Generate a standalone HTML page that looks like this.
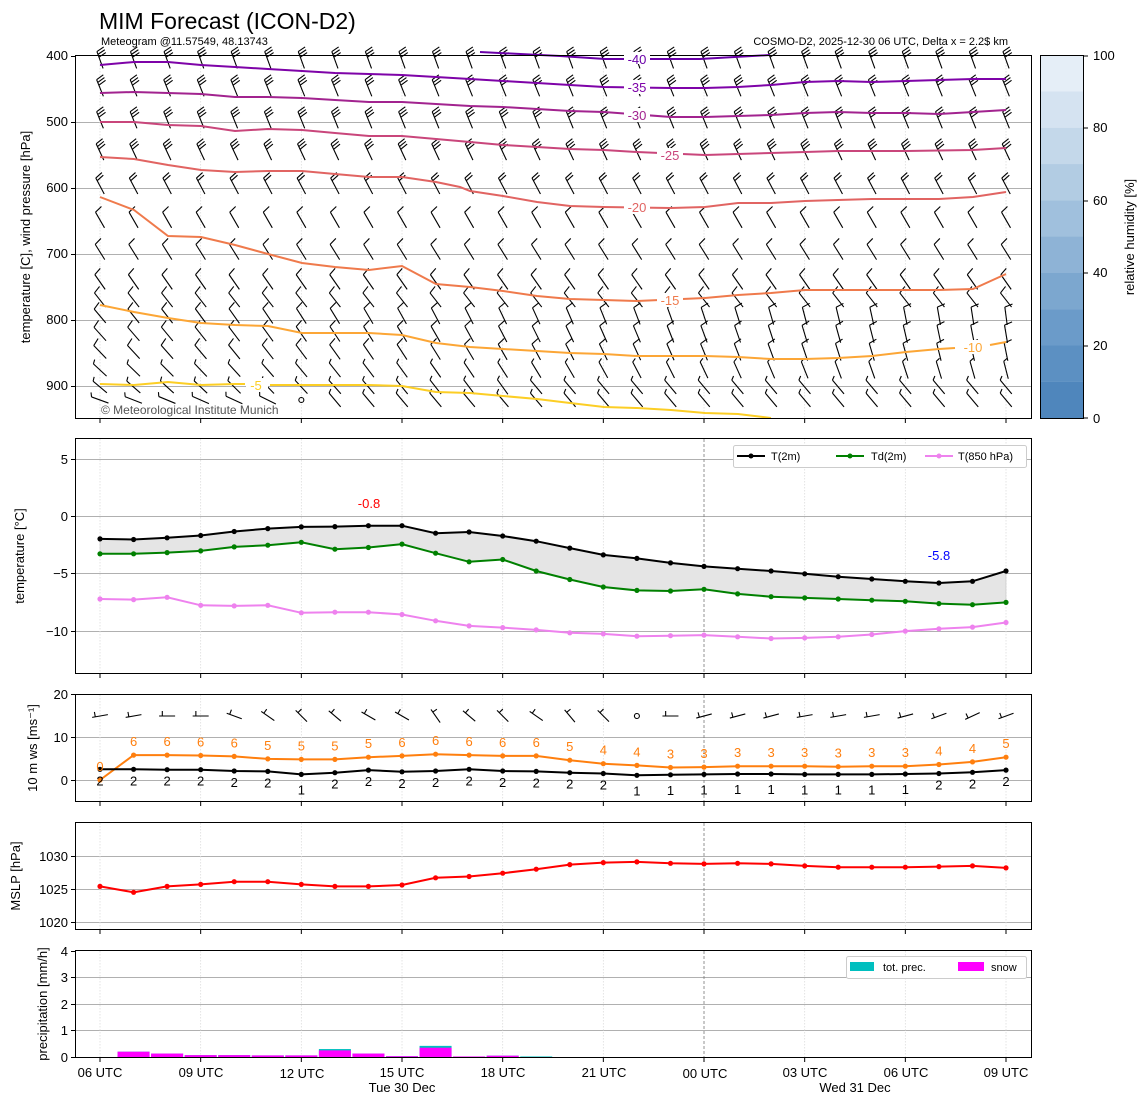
<!DOCTYPE html>
<html><head><meta charset="utf-8"><style>
body{margin:0;background:#fff;}
svg{display:block;font-family:"Liberation Sans","DejaVu Sans",sans-serif;}
</style></head><body>
<svg id="s" width="1148" height="1105" viewBox="0 0 1148 1105" xmlns="http://www.w3.org/2000/svg">
<rect width="1148" height="1105" fill="#fff"/>
<g id="grid"></g>
<g id="data"></g>
<!-- frames -->
<g fill="none" stroke="#000" stroke-width="1">
<rect x="75.5" y="55.5" width="956" height="363"/>
<rect x="75.5" y="438.5" width="956" height="235"/>
<rect x="75.5" y="694.5" width="956" height="107"/>
<rect x="75.5" y="822.5" width="956" height="107"/>
<rect x="75.5" y="950.5" width="956" height="107"/>
<rect x="1040.5" y="55.5" width="43" height="363"/>
</g>
<g id="ticks" stroke="#000"></g>
<!-- texts -->
<text x="99" y="29" font-size="23">MIM Forecast (ICON-D2)</text>
<text x="101" y="45" font-size="11">Meteogram @11.57549, 48.13743</text>
<text x="1008" y="45" font-size="11" text-anchor="end">COSMO-D2, 2025-12-30 06 UTC, Delta x = 2.2$ km</text>
<g font-size="13" text-anchor="end">
<text x="68" y="60">400</text><text x="68" y="126">500</text><text x="68" y="192">600</text><text x="68" y="258">700</text><text x="68" y="324">800</text><text x="68" y="390">900</text>
<text x="68" y="464">5</text><text x="68" y="521">0</text><text x="68" y="578">−5</text><text x="68" y="636">−10</text>
<text x="68" y="699">20</text><text x="68" y="742">10</text><text x="68" y="785">0</text>
<text x="68" y="861">1030</text><text x="68" y="894">1025</text><text x="68" y="927">1020</text>
<text x="68" y="956">4</text><text x="68" y="982">3</text><text x="68" y="1009">2</text><text x="68" y="1035">1</text><text x="68" y="1062">0</text>
</g>
<g font-size="13">
<text x="1093" y="60">100</text><text x="1093" y="132">80</text><text x="1093" y="205">60</text><text x="1093" y="277">40</text><text x="1093" y="350">20</text><text x="1093" y="423">0</text>
</g>
<text transform="translate(1134,237) rotate(-90)" font-size="13" text-anchor="middle">relative humidity [%]</text>
<text transform="translate(30,237) rotate(-90)" font-size="13" text-anchor="middle">temperature [C], wind pressure [hPa]</text>
<text transform="translate(24,556) rotate(-90)" font-size="13" text-anchor="middle">temperature [°C]</text>
<text transform="translate(37,748) rotate(-90)" font-size="13" text-anchor="middle">10 m ws [ms⁻¹]</text>
<text transform="translate(20,876) rotate(-90)" font-size="13" text-anchor="middle">MSLP [hPa]</text>
<text transform="translate(47,1004) rotate(-90)" font-size="13" text-anchor="middle">precipitation [mm/h]</text>
<g font-size="13" text-anchor="middle">
<text x="100" y="1077">06 UTC</text><text x="201" y="1077">09 UTC</text><text x="302" y="1078">12 UTC</text><text x="402" y="1077">15 UTC</text><text x="503" y="1077">18 UTC</text><text x="604" y="1077">21 UTC</text><text x="705" y="1078">00 UTC</text><text x="805" y="1077">03 UTC</text><text x="906" y="1077">06 UTC</text><text x="1006" y="1077">09 UTC</text>
<text x="402" y="1092">Tue 30 Dec</text><text x="855" y="1092">Wed 31 Dec</text>
</g>
<text x="101" y="414" font-size="12" fill="#555">© Meteorological Institute Munich</text>
<g fill="#fff">
<rect x="624" y="52" width="26" height="12"/><rect x="624" y="80" width="26" height="14"/><rect x="624" y="108" width="26" height="14"/>
<rect x="657" y="148" width="26" height="14"/><rect x="624" y="200" width="26" height="14"/><rect x="657" y="293" width="26" height="14"/>
<rect x="958" y="340" width="30" height="14"/><rect x="246" y="378" width="22" height="14"/>
</g>
<g font-size="13" text-anchor="middle">
<text x="637" y="64" fill="#6a00a8">-40</text>
<text x="637" y="92" fill="#7e03a8">-35</text>
<text x="637" y="120" fill="#a2238f">-30</text>
<text x="670" y="160" fill="#c9467b">-25</text>
<text x="637" y="212" fill="#e16462">-20</text>
<text x="670" y="305" fill="#ef7a4c">-15</text>
<text x="973" y="352" fill="#fca636">-10</text>
<text x="256" y="390" fill="#fcce25">-5</text>
</g>
<text x="369" y="508" font-size="13" fill="red" text-anchor="middle">-0.8</text>
<text x="939" y="560" font-size="13" fill="blue" text-anchor="middle">-5.8</text>
<!-- legends -->
<rect x="733.5" y="445.5" width="293" height="22" rx="2" fill="#fff" stroke="#ccc"/>
<line x1="737" y1="456" x2="765" y2="456" stroke="#000" stroke-width="2"/><circle cx="751" cy="456" r="2.5"/>
<text x="771" y="460" font-size="11">T(2m)</text>
<line x1="836" y1="456" x2="864" y2="456" stroke="green" stroke-width="2"/><circle cx="850" cy="456" r="2.5" fill="green"/>
<text x="861" y="460" font-size="11" dx="10">Td(2m)</text>
<line x1="925" y1="456" x2="953" y2="456" stroke="violet" stroke-width="2"/><circle cx="939" cy="456" r="2.5" fill="violet"/>
<text x="958" y="460" font-size="11">T(850 hPa)</text>
<rect x="846.5" y="956.5" width="180" height="22" rx="2" fill="#fff" stroke="#ccc"/>
<rect x="850" y="962" width="24" height="9" fill="#00bfbf"/><text x="883" y="971" font-size="11">tot. prec.</text>
<rect x="958" y="962" width="26" height="9" fill="#f0f"/><text x="991" y="971" font-size="11">snow</text>
<g id="lbl" font-size="13" text-anchor="middle">
</g>
</svg>
<script>
(function(){
const NS="http://www.w3.org/2000/svg";
const X=h=>100+h*33.556;
function el(p,t,a){const e=document.createElementNS(NS,t);for(const k in a)e.setAttribute(k,a[k]);p.appendChild(e);return e;}
const G=document.getElementById('grid'),D=document.getElementById('data'),T=document.getElementById('ticks');
[[122,188,254,320,386],[459,516,573,631],[737,780],[856,889,922],[977,1004,1030]].forEach(a=>a.forEach(y=>el(G,'line',{x1:76,x2:1031,y1:y+.5,y2:y+.5,stroke:'#b0b0b0','stroke-width':1})));
const panels=[[56,418],[439,673],[695,801],[823,929],[951,1057]];
for(let i=0;i<10;i++){const x=X(i*3);panels.forEach((p,j)=>{
 if(i==6&&j>0) el(G,'line',{x1:x,x2:x,y1:p[0],y2:p[1],stroke:'#777','stroke-width':.8,'stroke-dasharray':'3,2'});
 else el(G,'line',{x1:x,x2:x,y1:p[0],y2:p[1],stroke:'#ddd','stroke-width':.8,'stroke-dasharray':'1.5,1.5'});
 el(T,'line',{x1:x,x2:x,y1:p[1]+1,y2:p[1]+5});});}
[[56,122,188,254,320,386],[459,516,573,631],[694,737,780],[856,889,922],[951,977,1004,1030,1057]].forEach(a=>a.forEach(y=>el(T,'line',{x1:71,x2:75,y1:y+.5,y2:y+.5})));
[56,128,201,273,346,418].forEach(y=>el(T,'line',{x1:1084,x2:1088,y1:y,y2:y}));
const cb=['#4f86bc','#5c90c2','#6b9bc9','#7ca7cf','#8eb3d6','#a0c0dd','#b2cce3','#c4d8ea','#d5e3f1','#e5eef7','#f3f8fc'];
for(let i=0;i<10;i++){el(G,'rect',{x:1041,width:43,y:418-(i+1)*36.3,height:36.5,fill:cb[i]});}
const C=[
['#6a00a8',[[480,52],[560,56],[605,59],[700,59],[770,55]]],
['#7e03a8',[[100,65],[134,62],[168,62],[201,65],[235,67],[268,69],[302,71],[335,73],[369,74],[402,75],[436,77],[470,79],[503,81],[537,83],[570,85],[604,87],[671,88],[705,88],[738,87],[771,85],[805,82],[838,81],[872,82],[906,81],[939,80],[973,79],[1006,79]]],
['#a2238f',[[100,93],[134,92],[168,93],[201,94],[235,97],[268,97],[302,98],[335,100],[369,102],[402,102],[436,104],[470,106],[503,107],[537,109],[570,111],[604,112],[671,117],[705,117],[738,116],[771,115],[805,113],[838,112],[872,113],[906,113],[939,114],[973,112],[1006,110]]],
['#c9467b',[[100,122],[134,122],[168,125],[201,126],[235,131],[268,129],[302,130],[335,133],[369,136],[402,136],[436,139],[470,142],[503,145],[537,147],[570,149],[604,150],[637,152],[705,155],[738,154],[771,153],[805,152],[838,151],[906,151],[973,150],[1006,148]]],
['#e16462',[[100,157],[134,159],[168,165],[201,170],[235,172],[268,171],[302,171],[335,174],[369,177],[402,177],[436,182],[460,187],[470,191],[503,196],[537,202],[570,206],[604,207],[671,208],[705,207],[738,203],[771,203],[805,201],[838,200],[872,199],[939,199],[973,197],[1006,192]]],
['#ef7a4c',[[100,197],[134,210],[168,236],[201,237],[235,245],[268,254],[302,263],[335,267],[369,270],[402,266],[436,284],[470,287],[503,291],[537,296],[570,299],[604,300],[637,301],[705,298],[738,295],[771,293],[805,290],[872,290],[939,290],[973,289],[1006,274]]],
['#fca636',[[100,305],[134,312],[168,318],[201,323],[235,325],[268,326],[302,333],[369,333],[402,335],[436,343],[470,347],[503,349],[537,351],[570,353],[604,354],[637,356],[705,356],[738,357],[771,359],[805,359],[838,358],[872,356],[906,352],[939,349],[955,348]],[[990,345],[1006,342]]],
['#fcce25',[[100,384],[134,385],[168,382],[201,385],[235,384],[245,384]],[[270,385],[302,385],[369,385],[402,386],[436,392],[470,393],[503,396],[537,399],[570,403],[604,407],[637,408],[671,410],[705,413],[738,414],[771,418]]]
];
const pl=a=>a.map(p=>p.join(',')).join(' ');
const rows=[[60,-20,3],[88,-22,3],[120,-22,3],[152,-25,3],[186,-28,2],[220,-30,1],[252,-32,1],[282,-35,1],[300,-38,1],[316,-40,1],[334,-42,1],[352,-44,1],[370,-47,.5],[387,-50,.5],[400,-70,.5]];
const B=el(D,'g',{stroke:'#000','stroke-width':1.1,fill:'none'});
for(let h=0;h<28;h++){const x=X(h);rows.forEach((r,i)=>{
 let ang=r[1]+ (i>8? h*1.2:0); if(i==14&&h>5) ang=-40; if(i==13&&h>12) ang=-40;
 const a=ang*Math.PI/180, L=18;
 const x0=x+Math.sin(-a)*L*0.5, y0=r[0]+Math.cos(a)*L*0.5;
 const x1=x-Math.sin(-a)*L*0.5, y1=r[0]-Math.cos(a)*L*0.5;
 if(i==14&&h==6){el(B,'circle',{cx:x,cy:r[0],r:2.5});return;}
 el(B,'line',{x1:x0,y1:y0,x2:x1,y2:y1});
 let n=r[2];const ux=(x0-x1)/L,uy=(y0-y1)/L;
 for(let k=0;k<Math.ceil(n);k++){const bx=x1+ux*k*3,by=y1+uy*k*3;const len=(n-k<1)?4:8;
  el(B,'line',{x1:bx,y1:by,x2:bx-uy*len*-1+(-ux*2),y2:by+ux*len*-1+(-uy*2)});}
});}
C.forEach(c=>c.slice(1).forEach(s=>el(D,'polyline',{points:pl(s),fill:'none',stroke:c[0],'stroke-width':2})));
const t2=[-2.0,-2.05,-1.9,-1.7,-1.35,-1.1,-0.95,-0.93,-0.85,-0.85,-1.5,-1.4,-1.75,-2.2,-2.8,-3.4,-3.7,-4.1,-4.4,-4.6,-4.8,-5.05,-5.3,-5.5,-5.7,-5.85,-5.7,-4.8];
const td=[-3.3,-3.3,-3.2,-3.05,-2.7,-2.55,-2.3,-2.9,-2.75,-2.45,-3.25,-4.0,-3.8,-4.8,-5.55,-6.2,-6.5,-6.55,-6.4,-6.8,-7.05,-7.15,-7.25,-7.35,-7.45,-7.65,-7.75,-7.55];
const t8=[-7.25,-7.3,-7.1,-7.8,-7.85,-7.8,-8.45,-8.4,-8.4,-8.6,-9.15,-9.6,-9.75,-9.95,-10.2,-10.3,-10.5,-10.45,-10.4,-10.55,-10.7,-10.65,-10.55,-10.35,-10.05,-9.85,-9.7,-9.3];
const Y2=v=>516-v*11.45;
const P=(arr,f)=>arr.map((v,h)=>[X(h).toFixed(1),f(v).toFixed(1)]);
el(D,'polygon',{points:pl(P(t2,Y2))+' '+pl(P(td,Y2).reverse()),fill:'#e5e5e5',stroke:'#bbb','stroke-width':.5});
function series(arr,f,col){const p=P(arr,f);el(D,'polyline',{points:pl(p),fill:'none',stroke:col,'stroke-width':2});p.forEach(q=>el(D,'circle',{cx:q[0],cy:q[1],r:2.6,fill:col}));}
series(t8,Y2,'violet');series(td,Y2,'green');series(t2,Y2,'#000');
const ws=[0,5.8,5.8,5.7,5.5,4.9,4.8,4.8,5.3,5.6,6,5.8,5.6,5.6,4.6,3.8,3.4,2.9,3.0,3.2,3.2,3.2,3.1,3.2,3.2,3.6,4.2,5.3];
const wb=[2.5,2.5,2.4,2.4,2.1,2.0,1.3,1.7,2.3,1.9,2.1,2.5,2.1,2.0,1.7,1.5,1.1,1.2,1.3,1.4,1.4,1.3,1.3,1.3,1.4,1.5,1.8,2.3];
const wl=[0,6,6,6,6,5,5,5,5,6,6,6,6,6,5,4,4,3,3,3,3,3,3,3,3,4,4,5];
const bl=[2,2,2,2,2,2,1,2,2,2,2,2,2,2,2,2,1,1,1,1,1,1,1,1,1,2,2,2];
const Y3=v=>780-v*4.3;
series(ws,Y3,'#ff7f0e');series(wb,Y3,'#000');
const L=document.getElementById('lbl');
for(let h=0;h<28;h++){let t=el(L,'text',{x:X(h),y:Y3(ws[h])-9,fill:'#ff7f0e'});t.textContent=wl[h];
 t=el(L,'text',{x:X(h),y:Y3(wb[h])+16+(bl[h]==1?4:0)});t.textContent=bl[h];}
const ang3=[-10,-10,0,0,20,35,45,40,30,30,55,40,45,35,50,45,null,0,-15,-15,-15,-10,-10,-10,-15,-20,-25,-20];
const B3=el(D,'g',{stroke:'#000','stroke-width':1.1});
ang3.forEach((a,h)=>{const x=X(h),y=716;if(a===null){el(B3,'circle',{cx:x,cy:y,r:2.5,fill:'none'});return;}
 const r=a*Math.PI/180,dx=Math.cos(r)*8,dy=Math.sin(r)*8;
 el(B3,'line',{x1:x-dx,y1:y-dy,x2:x+dx,y2:y+dy});
 el(B3,'line',{x1:x-dx*0.6,y1:y-dy*0.6,x2:x-dx*0.6+Math.sin(r)*5,y2:y-dy*0.6-Math.cos(r)*5});});
const ms=[1025.4,1024.5,1025.4,1025.7,1026.1,1026.1,1025.7,1025.4,1025.4,1025.6,1026.7,1026.9,1027.4,1028.0,1028.7,1029.0,1029.1,1028.9,1028.8,1028.9,1028.8,1028.5,1028.3,1028.3,1028.3,1028.4,1028.5,1028.2];
series(ms,v=>889-(v-1025)*6.6,'red');
const tp=[0,0.2,0.13,0.07,0.07,0.06,0.06,0.3,0.13,0.03,0.42,0.02,0.05,0.02];
const sn=[0,0.2,0.13,0.07,0.07,0.06,0.06,0.25,0.13,0.03,0.35,0.02,0.05,0];
for(let h=1;h<14;h++){const x=X(h)-16;
 el(D,'rect',{x:x,width:32,y:1057-tp[h]*26.5,height:Math.max(tp[h]*26.5,0.8),fill:'#00bfbf'});
 if(sn[h]>0)el(D,'rect',{x:x,width:32,y:1057-sn[h]*26.5,height:sn[h]*26.5,fill:'#f0f'});}
})();
</script>
</body></html>
